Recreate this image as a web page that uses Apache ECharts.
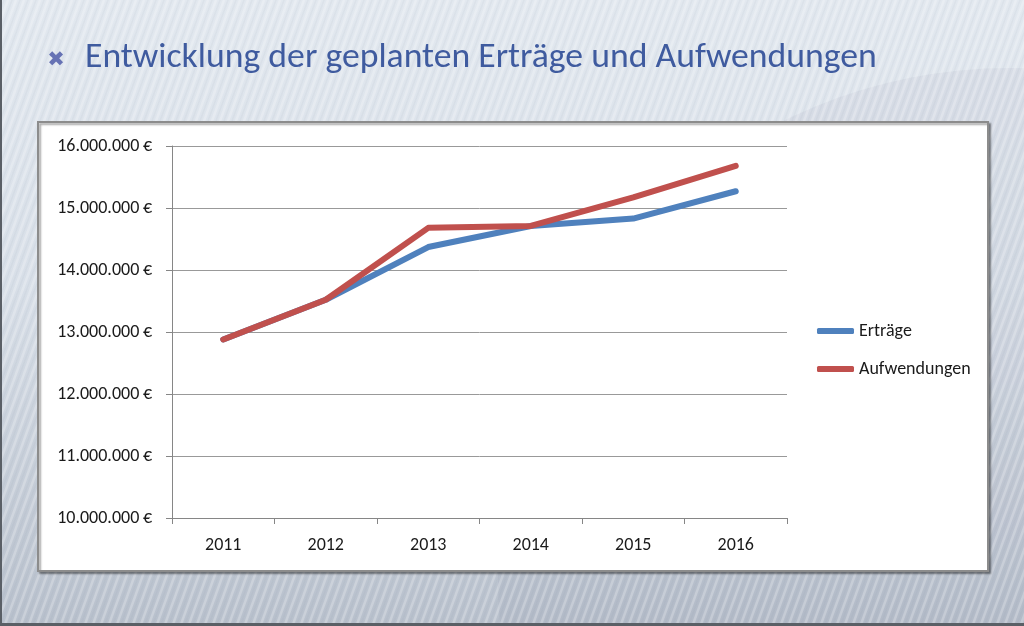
<!DOCTYPE html>
<html><head><meta charset="utf-8">
<script src="https://cdn.jsdelivr.net/npm/echarts@6/dist/echarts.min.js"></script>
<style>html,body{margin:0;padding:0;width:1024px;height:626px;overflow:hidden;}#c{width:1024px;height:626px;}</style>
</head><body><div id="c"></div>
<script>
const years = ['2011', '2012', '2013', '2014', '2015', '2016'];
const ertraege = [12880000, 13520000, 14370000, 14710000, 14830000, 15270000];
const aufwendungen = [12880000, 13520000, 14680000, 14710000, 15170000, 15680000];
const seriesNames = ['Erträge', 'Aufwendungen'];
const titleText = 'Entwicklung der geplanten Erträge und Aufwendungen';
const yMin = 10000000, yMax = 16000000, yStep = 1000000;

const FONT = 'Carlito, Lato, "Open Sans", sans-serif';

function fmtEuro(v) {
  return String(Math.round(v)).replace(/\B(?=(\d{3})+(?!\d))/g, '.') + '\u2009€';
}

function stripeCanvas() {
  const w = 8, h = 22;
  const c = document.createElement('canvas');
  c.width = w; c.height = h;
  const ctx = c.getContext('2d');
  ctx.strokeStyle = 'rgba(255,255,255,0.24)';
  ctx.lineWidth = 2.5;
  for (let k = -1; k <= 1; k++) {
    ctx.beginPath();
    ctx.moveTo(k * w - w, 2 * h);
    ctx.lineTo(k * w + 2 * w, -h);
    ctx.stroke();
  }
  ctx.strokeStyle = 'rgba(120,130,150,0.06)';
  ctx.lineWidth = 1.5;
  for (let k = -1; k <= 1; k++) {
    ctx.beginPath();
    ctx.moveTo(k * w - w + 4, 2 * h);
    ctx.lineTo(k * w + 2 * w + 4, -h);
    ctx.stroke();
  }
  return c;
}

const chart = echarts.init(document.getElementById('c'), null, { renderer: 'canvas' });

chart.setOption({
  animation: false,
  graphic: [
    { type: 'rect', z: -10, silent: true, shape: { x: 0, y: 0, width: 1024, height: 626 },
      style: { fill: new echarts.graphic.LinearGradient(0, 0, 0, 1, [
        { offset: 0, color: '#e2e8ef' },
        { offset: 0.45, color: '#d8dfe8' },
        { offset: 1, color: '#b8c0cc' }
      ]) } },
    { type: 'circle', z: -9, silent: true, shape: { cx: 1010, cy: 580, r: 512 },
      style: { fill: 'rgba(110,120,140,0.07)' } },
    { type: 'rect', z: -8, silent: true, shape: { x: 0, y: 0, width: 1024, height: 626 },
      style: { fill: { image: stripeCanvas(), repeat: 'repeat' } } },
    { type: 'rect', z: -7, silent: true, shape: { x: 0, y: 0, width: 2, height: 626 },
      style: { fill: '#5a5f66' } },
    { type: 'rect', z: -7, silent: true, shape: { x: 0, y: 623, width: 1024, height: 3 },
      style: { fill: '#5a5f66' } },
    { type: 'text', z: 5, silent: true, x: 56, y: 61,
      style: { text: '✖', fontSize: 21, fill: '#6672b4', align: 'center', verticalAlign: 'middle', fontFamily: '"DejaVu Sans"' } },
    { type: 'text', z: 5, silent: true, x: 85, y: 58,
      style: { text: titleText, fontSize: 35.7, fill: '#3f5b9f', align: 'left', verticalAlign: 'middle', fontFamily: FONT } },
    { type: 'rect', z: -5, silent: true, shape: { x: 38, y: 122, width: 950, height: 449 },
      style: { fill: '#ffffff', stroke: '#8c8c8c', lineWidth: 2,
        shadowColor: 'rgba(0,0,0,0.35)', shadowBlur: 2, shadowOffsetX: 2, shadowOffsetY: 2 } }
  ],
  grid: { left: 172, right: 237, top: 146, bottom: 108, containLabel: false, outerBoundsMode: 'none' },
  legend: {
    orient: 'vertical', left: 812, top: 315, itemGap: 16,
    icon: 'roundRect', itemWidth: 37, itemHeight: 6,
    textStyle: { fontFamily: FONT, fontSize: 18, color: '#1a1a1a', lineHeight: 22 },
    data: seriesNames
  },
  xAxis: {
    type: 'category', data: years, boundaryGap: true,
    axisLine: { lineStyle: { color: '#868686', width: 1 } },
    axisTick: { show: true, length: 6, lineStyle: { color: '#868686' } },
    axisLabel: { fontFamily: FONT, fontSize: 18, color: '#1a1a1a', margin: 18 },
    splitLine: { show: false }
  },
  yAxis: {
    type: 'value', min: yMin, max: yMax, interval: yStep,
    axisLine: { show: true, lineStyle: { color: '#868686', width: 1 } },
    axisTick: { show: true, length: 6, lineStyle: { color: '#868686' } },
    axisLabel: { fontFamily: FONT, fontSize: 18, color: '#1a1a1a', margin: 20, formatter: fmtEuro },
    splitLine: { show: true, lineStyle: { color: '#999999', width: 1 } }
  },
  series: [
    { name: seriesNames[0], type: 'line', data: ertraege, symbol: 'none', smooth: false,
      itemStyle: { color: '#4f81bd' },
      lineStyle: { color: '#4f81bd', width: 6, cap: 'round', join: 'round' } },
    { name: seriesNames[1], type: 'line', data: aufwendungen, symbol: 'none', smooth: false,
      itemStyle: { color: '#c0504d' },
      lineStyle: { color: '#c0504d', width: 6, cap: 'round', join: 'round' } }
  ]
});
</script>
</body></html>
